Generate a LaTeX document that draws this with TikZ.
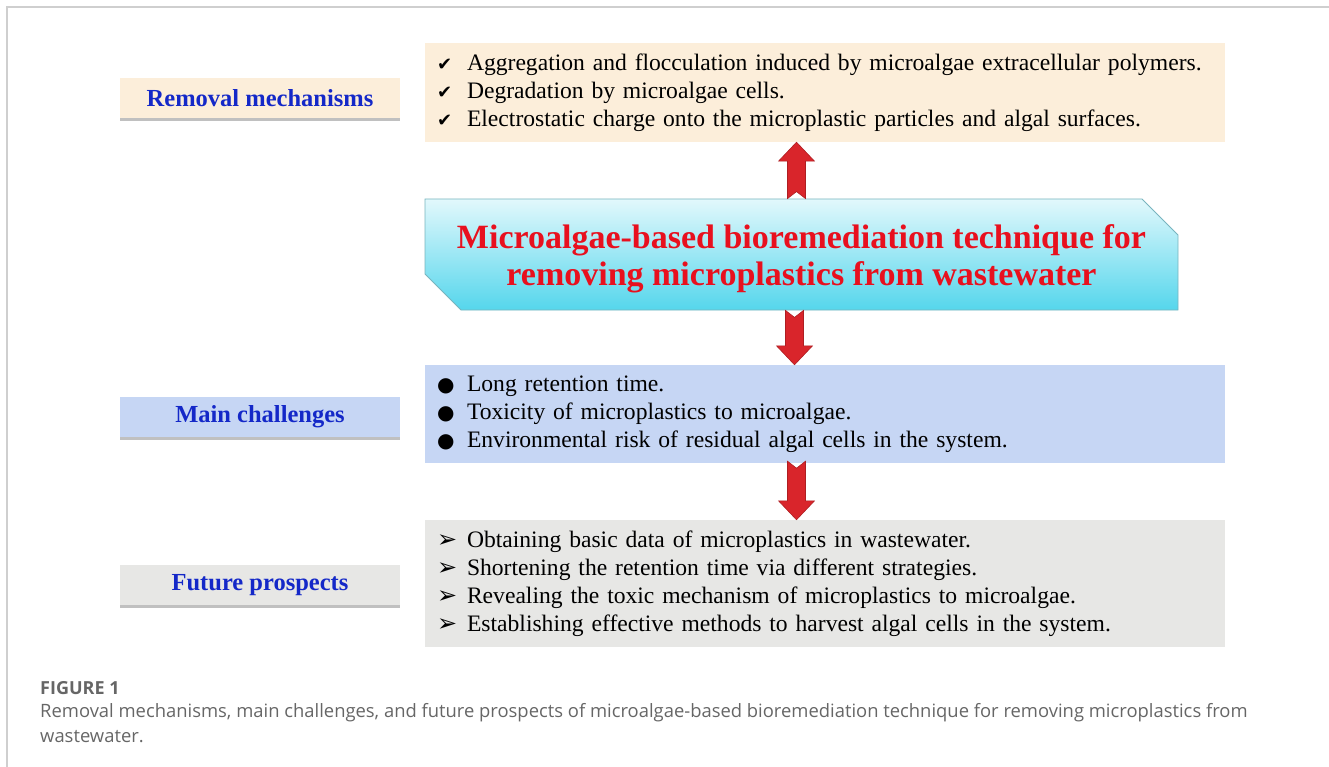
\documentclass[tikz,border=0pt]{standalone}
\usepackage{fontspec}
\setmainfont{Liberation Serif}
\newfontfamily\symfont{DejaVu Sans}
\newfontfamily\capfont{Open Sans}
\usetikzlibrary{shapes.misc,shadows,calc}

\definecolor{peach}{HTML}{FCEEDA}
\definecolor{lavender}{HTML}{C6D6F4}
\definecolor{stone}{HTML}{E7E7E5}
\definecolor{labelblue}{HTML}{1428C8}
\definecolor{titlered}{HTML}{E8101E}
\definecolor{arrowred}{HTML}{D9252B}
\definecolor{corelight}{HTML}{E2F8FC}
\definecolor{coredark}{HTML}{55D6EC}
\definecolor{coreedge}{HTML}{78B4BE}
\definecolor{framegray}{HTML}{CFCFCF}
\definecolor{capgray}{HTML}{666666}

% one line of a list box: symbol, then text
\newcommand{\bulletline}[3]{\hspace*{12pt}\makebox[30pt][l]{\symfont\fontsize{#1}{#1}\selectfont #2}\mbox{#3}}

% notched red block arrow from #1 towards the level of #2
\newcommand{\redarrow}[2]{%
  \fill[arrowred, draw=arrowred!80!black, line width=.6pt] let \p1=#1, \p2=(#2), \n1={(\y2-\y1)/abs(\y2-\y1)} in
    (\x1-9pt,\y1) -- (\x1,{\y1+\n1*7pt}) -- (\x1+9pt,\y1) -- (\x1+9pt,{\y2-\n1*19pt})
    -- (\x1+18pt,{\y2-\n1*19pt}) -- (\x1,\y2) -- (\x1-18pt,{\y2-\n1*19pt})
    -- (\x1-9pt,{\y2-\n1*19pt}) -- cycle;
}

\begin{document}
\begin{tikzpicture}[x=1pt,y=-1pt,
  tagbox/.style={minimum width=280pt,minimum height=40pt,inner sep=0pt,
    font=\fontsize{24.5}{28}\selectfont\bfseries,text=labelblue,
    drop shadow={shadow xshift=0pt,shadow yshift=-3pt,opacity=.45,fill=black!55}},
  listbox/.style={text width=800pt,inner xsep=0pt,inner ysep=0pt,
    align=left,font=\fontsize{23.6}{28}\selectfont},
  core/.style={chamfered rectangle,chamfered rectangle corners={north east,south west},
    chamfered rectangle xsep=18pt,chamfered rectangle ysep=18pt,
    minimum width=753pt,minimum height=111pt,inner sep=0pt,
    top color=corelight,bottom color=coredark,draw=coreedge,line width=.8pt,
    align=center,text=titlered,font=\fontsize{34}{37}\selectfont\bfseries}]
	\useasboundingbox (0,0) rectangle (1329,767);
	\draw[framegray, line width=1.3pt] (7,767) -- (7,7) -- (1329,7);

	% left column
	\node[tagbox, fill=peach] (rmtag) at (260,98) {Removal mechanisms};
	\node[tagbox, fill=lavender] (mctag) at (260,417) {Main challenges};
	\node[tagbox, fill=stone] (fptag) at (260,585) {Future prospects};

	% right column
	\node[listbox, fill=peach, minimum height=99pt] (rmbox) at (825,92.5) {%
		\bulletline{18}{✔}{Aggregation and flocculation induced by microalgae extracellular polymers.}\\
		\bulletline{18}{✔}{Degradation by microalgae cells.}\\
		\bulletline{18}{✔}{Electrostatic charge onto the microplastic particles and algal surfaces.}};
	\node[core] (core) at (801.5,254.5) {\raisebox{-5pt}[\height][\depth]{\begin{tabular}{@{}c@{}}Microalgae-based bioremediation technique for\\removing microplastics from wastewater\end{tabular}}};
	\node[listbox, fill=lavender, minimum height=98pt] (mcbox) at (825,414) {%
		\bulletline{20}{●}{Long retention time.}\\
		\bulletline{20}{●}{Toxicity of microplastics to microalgae.}\\
		\bulletline{20}{●}{Environmental risk of residual algal cells in the system.}};
	\node[listbox, fill=stone, minimum height=127pt] (fpbox) at (825,583.5) {%
		\bulletline{24}{➢}{Obtaining basic data of microplastics in wastewater.}\\
		\bulletline{24}{➢}{Shortening the retention time via different strategies.}\\
		\bulletline{24}{➢}{Revealing the toxic mechanism of microplastics to microalgae.}\\
		\bulletline{24}{➢}{Establishing effective methods to harvest algal cells in the system.}};

	% arrows
	\redarrow{([xshift=-5pt]core.north)}{rmbox.south}
	\redarrow{([xshift=-7pt]core.south)}{mcbox.north}
	\redarrow{([xshift=-5pt,yshift=2pt]core.south |- mcbox.south)}{fpbox.north}

	% caption
	\node[anchor=base west, inner sep=0pt, text=capgray, font=\capfont\bfseries\fontsize{18}{20}\selectfont] (fig) at (40,694) {FIGURE 1};
	\node[anchor=base west, inner sep=0pt, align=left, text=capgray, font=\capfont\fontsize{18.4}{25}\selectfont] (caption) at (40,742)
		{Removal mechanisms, main challenges, and future prospects of microalgae-based bioremediation technique for removing microplastics from\\wastewater.};
\end{tikzpicture}
\end{document}
